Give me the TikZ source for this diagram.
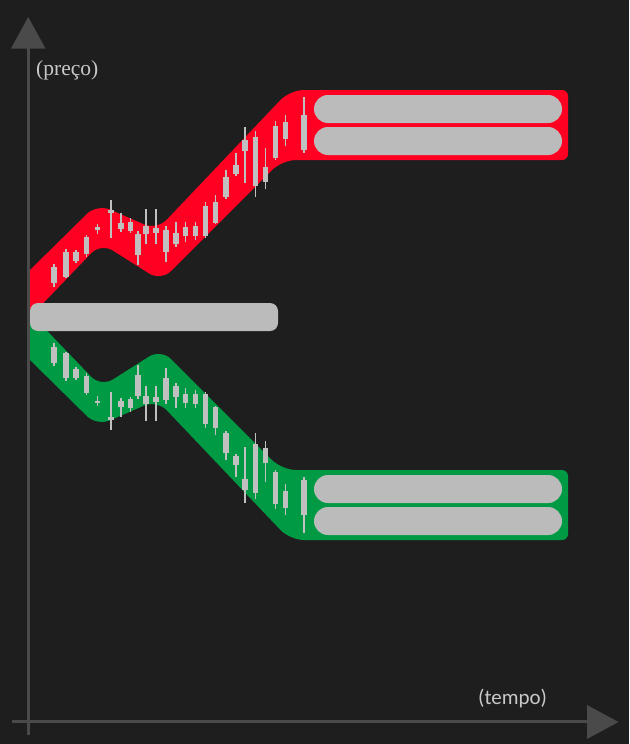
\documentclass[tikz,border=0pt]{standalone}
\usepackage{fontspec}
\newfontfamily\serifnt{Liberation Serif}
\newfontfamily\sansnt{Carlito}
\definecolor{bgc}{HTML}{1E1E1E}
\definecolor{axisc}{HTML}{4A4A4A}
\definecolor{bandred}{HTML}{FF0022}
\definecolor{bandgreen}{HTML}{009A44}
\definecolor{pillc}{HTML}{BBBBBB}
\definecolor{candlec}{HTML}{C0C0C0}
\definecolor{textc}{HTML}{C8C8C8}
\tikzset{
  pill/.style={fill=pillc, rounded corners=14pt},
  axisfill/.style={fill=axisc},
  wick/.style={draw=candlec, line width=1.3pt},
  body/.style={fill=candlec},
  lbl/.style={text=textc, inner sep=0pt}
}
% candle: center x, body top, body bottom, wick top, wick bottom
\newcommand\mycandle[5]{%
  \draw[wick] (#1,#4) -- (#1,#5);
  \fill[body] ({#1-2.8},#2) rectangle ({#1+2.8},#3);
}
\newcommand\mybandpart[1]{%
  \fill[#1] (29,271) [rounded corners=14pt] -- (97,204) -- (157,230) -- (290,90)
     [rounded corners=6pt] -- (568,90) -- (568,160)
     [rounded corners=14pt] -- (282,160) -- (161,281) -- (101,243)
     [sharp corners] -- (29,318) -- cycle;
  \fill[pill] (314,95) rectangle (562,123);
  \fill[pill] (314,127) rectangle (562,155);
  \mycandle{54}{267}{283}{264}{287}
  \mycandle{66}{252}{277}{249}{278}
  \mycandle{76}{252}{261}{250}{263}
  \mycandle{86.5}{237}{254}{235}{257}
  \mycandle{97.5}{227}{229.5}{224}{234}
  \mycandle{111}{210}{213}{200}{238}
  \mycandle{121}{223}{229}{213}{232}
  \mycandle{130.5}{222}{231}{218}{233}
  \mycandle{138}{234}{255}{231}{265}
  \mycandle{146}{226}{234}{209}{244}
  \mycandle{156}{228}{233}{209}{244}
  \mycandle{166}{230}{252}{226}{262}
  \mycandle{176}{233}{244}{222}{247}
  \mycandle{185.5}{227}{236}{222}{242}
  \mycandle{195.5}{226}{236}{222}{240}
  \mycandle{205.3}{206}{236}{202}{238}
  \mycandle{215.5}{202}{223}{195}{224}
  \mycandle{226}{177}{197}{170}{199}
  \mycandle{236}{165}{174}{153}{176}
  \mycandle{245}{140}{151}{127}{183}
  \mycandle{255.5}{137}{186}{131}{197}
  \mycandle{265.5}{167}{182}{148}{189}
  \mycandle{275.5}{126}{158}{121}{160}
  \mycandle{285.5}{122}{139}{115}{146}
  \mycandle{304}{115}{150}{97}{153}
}
\begin{document}
\begin{tikzpicture}[x=1pt,y=-1pt]
\useasboundingbox (0,0) rectangle (629,744);
\fill[bgc] (0,0) rectangle (629,744);
% upper (red) band
\begin{scope}
  \mybandpart{bandred}
\end{scope}
% lower (green) band, mirror image
\begin{scope}[yshift=-630pt,yscale=-1]
  \mybandpart{bandgreen}
\end{scope}
% middle bar
\fill[pillc, rounded corners=8pt] (30,303) rectangle (278,331);
% axes
\fill[axisfill] (26.6,48) rectangle (29.8,735);
\fill[axisfill] (28.2,17) -- (11,48.5) -- (45.5,48.5) -- cycle;
\fill[axisfill] (12,720.4) rectangle (588,723.4);
\fill[axisfill] (618.5,722) -- (587,705) -- (587,739) -- cycle;
% labels
\node[lbl, anchor=base west, font=\serifnt\fontsize{21.5}{24}\selectfont] (preco) at (36,75) {(preço)};
\node[lbl, anchor=base west, font=\sansnt\fontsize{21}{24}\selectfont] (tempo) at (478,704) {(tempo)};
\end{tikzpicture}
\end{document}
